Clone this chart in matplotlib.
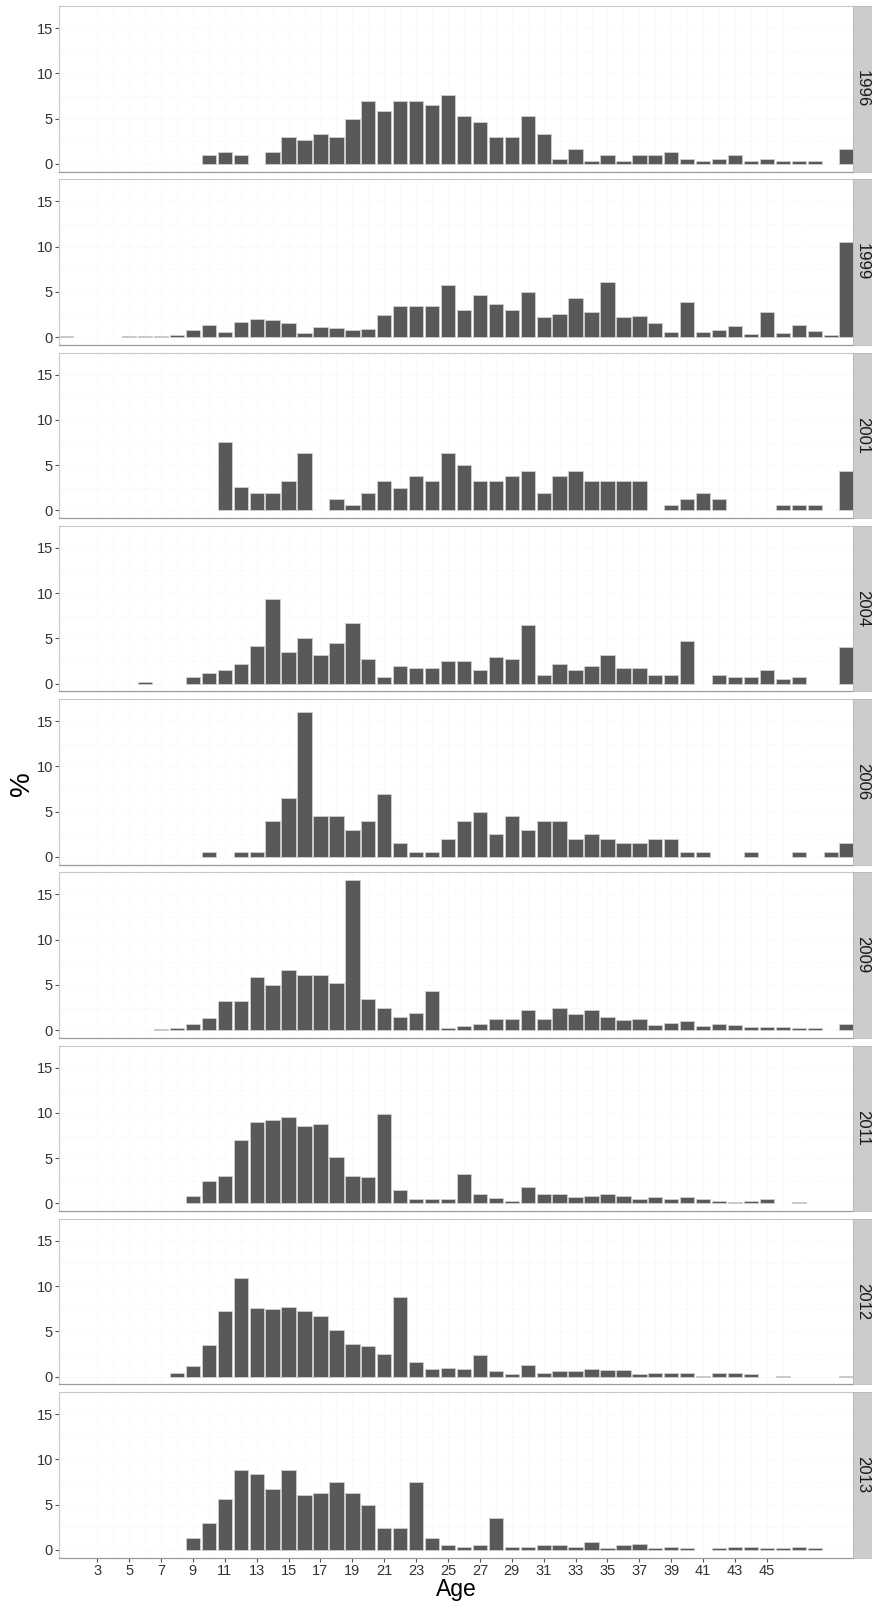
import matplotlib
matplotlib.use('Agg')
from matplotlib import pyplot as plt

plt.rcParams['font.family'] = ['Liberation Sans', 'DejaVu Sans']

years = ['1996', '1999', '2001', '2004', '2006', '2009', '2011', '2012', '2013']
ages = list(range(1, 51))
age_ticks = list(range(3, 46, 2))

# share of each age (%), ages 1..50
y1996 = [0, 0, 0, 0, 0, 0, 0, 0, 0, 1.0,
         1.3, 1.0, 0, 1.3, 3.0, 2.6, 3.3, 3.0, 5.0, 6.9,
         5.9, 6.9, 6.9, 6.5, 7.6, 5.3, 4.6, 3.0, 3.0, 5.3,
         3.3, 0.6, 1.6, 0.3, 1.0, 0.3, 1.0, 1.0, 1.3, 0.6,
         0.3, 0.6, 1.0, 0.3, 0.6, 0.3, 0.3, 0.3, 0, 1.6]
y1999 = [0.1, 0, 0, 0, 0.1, 0.1, 0.1, 0.2, 0.8, 1.3,
         0.6, 1.7, 2.0, 1.9, 1.6, 0.5, 1.1, 1.0, 0.8, 0.9,
         2.4, 3.4, 3.5, 3.4, 5.8, 3.0, 4.7, 3.7, 3.0, 5.0,
         2.2, 2.6, 4.3, 2.8, 6.1, 2.2, 2.3, 1.6, 0.6, 3.9,
         0.6, 0.8, 1.2, 0.4, 2.8, 0.5, 1.4, 0.7, 0.2, 10.5]
y2001 = [0, 0, 0, 0, 0, 0, 0, 0, 0, 0,
         7.6, 2.6, 1.9, 1.9, 3.2, 6.3, 0, 1.3, 0.6, 1.9,
         3.2, 2.5, 3.8, 3.2, 6.3, 5.0, 3.2, 3.2, 3.8, 4.4,
         1.9, 3.8, 4.4, 3.2, 3.2, 3.2, 3.2, 0, 0.6, 1.3,
         1.9, 1.3, 0, 0, 0, 0.6, 0.6, 0.6, 0, 4.4]
y2004 = [0, 0, 0, 0, 0, 0.2, 0, 0, 0.7, 1.2,
         1.5, 2.2, 4.2, 9.3, 3.5, 5.0, 3.2, 4.5, 6.7, 2.7,
         0.7, 2.0, 1.7, 1.7, 2.5, 2.5, 1.5, 3.0, 2.7, 6.5,
         1.0, 2.2, 1.5, 2.0, 3.2, 1.7, 1.7, 1.0, 1.0, 4.7,
         0, 1.0, 0.7, 0.7, 1.5, 0.5, 0.7, 0, 0, 4.0]
y2006 = [0, 0, 0, 0, 0, 0, 0, 0, 0, 0.5,
         0, 0.5, 0.5, 4.0, 6.5, 16.0, 4.5, 4.5, 3.0, 4.0,
         7.0, 1.5, 0.5, 0.5, 2.0, 4.0, 5.0, 2.5, 4.5, 3.0,
         4.0, 4.0, 2.0, 2.5, 2.0, 1.5, 1.5, 2.0, 2.0, 0.5,
         0.5, 0, 0, 0.5, 0, 0, 0.5, 0, 0.5, 1.5]
y2009 = [0, 0, 0, 0, 0, 0, 0.1, 0.3, 0.7, 1.4,
         3.2, 3.2, 5.9, 5.0, 6.7, 6.1, 6.1, 5.2, 16.6, 3.4,
         2.4, 1.5, 1.9, 4.3, 0.2, 0.5, 0.7, 1.2, 1.2, 2.2,
         1.2, 2.4, 1.8, 2.2, 1.5, 1.1, 1.2, 0.6, 0.8, 1.0,
         0.5, 0.7, 0.6, 0.4, 0.4, 0.4, 0.3, 0.3, 0, 0.7]
y2011 = [0, 0, 0, 0, 0, 0, 0, 0, 0.8, 2.5,
         3.0, 7.0, 9.0, 9.2, 9.5, 8.5, 8.8, 5.1, 3.0, 2.9,
         9.9, 1.5, 0.5, 0.5, 0.5, 3.2, 1.0, 0.6, 0.3, 1.8,
         1.0, 1.0, 0.7, 0.8, 1.0, 0.8, 0.5, 0.7, 0.5, 0.7,
         0.5, 0.3, 0.2, 0.3, 0.5, 0, 0.2, 0, 0, 0]
y2012 = [0, 0, 0, 0, 0, 0, 0, 0.4, 1.2, 3.5,
         7.3, 10.9, 7.6, 7.5, 7.7, 7.3, 6.7, 5.2, 3.6, 3.4,
         2.5, 8.8, 1.6, 0.9, 1.0, 0.9, 2.4, 0.6, 0.3, 1.3,
         0.4, 0.6, 0.6, 0.9, 0.7, 0.7, 0.3, 0.4, 0.4, 0.4,
         0.1, 0.4, 0.4, 0.3, 0, 0.1, 0, 0, 0, 0.1]
y2013 = [0, 0, 0, 0, 0, 0, 0, 0, 1.3, 3.0,
         5.6, 8.8, 8.4, 6.7, 8.8, 6.1, 6.3, 7.5, 6.3, 5.0,
         2.4, 2.4, 7.5, 1.3, 0.5, 0.3, 0.5, 3.5, 0.3, 0.3,
         0.5, 0.5, 0.3, 0.9, 0.2, 0.5, 0.7, 0.2, 0.3, 0.2,
         0, 0.2, 0.3, 0.3, 0.2, 0.2, 0.3, 0.2, 0, 0]

shares = [y1996, y1999, y2001, y2004, y2006, y2009, y2011, y2012, y2013]

W, H = 872, 1609
fig = plt.figure(figsize=(W / 100, H / 100), dpi=100)

left, right = 59, 853
top0, panel_h, step = 6, 165.5, 173.25
strip_w = 19

for i, (year, vals) in enumerate(zip(years, shares)):
    top = top0 + i * step
    rect = [left / W, 1 - (top + panel_h) / H, (right - left) / W, panel_h / H]
    ax = fig.add_axes(rect)

    xs = [a for a, v in zip(ages, vals) if v > 0]
    hs = [v for v in vals if v > 0]
    ax.bar(xs, hs, width=0.9, color='#595959', edgecolor='#d0d0d0', linewidth=0.6, zorder=3)

    ax.set_xlim(0.6, 50.4)
    ax.set_ylim(-0.83, 17.43)
    ax.set_yticks([0, 5, 10, 15])
    ax.set_yticks([2.5, 7.5, 12.5], minor=True)
    ax.set_xticks(age_ticks)
    ax.set_xticks([a + 1 for a in age_ticks], minor=True)
    ax.grid(True, which='both', color='#efefef', linewidth=0.5, linestyle=':', zorder=0)
    ax.tick_params(axis='y', which='major', labelsize=10.5, length=3, color='#555555',
                   labelcolor='#333333', pad=1.5)
    ax.tick_params(which='minor', length=0)
    if i == len(years) - 1:
        ax.tick_params(axis='x', which='major', labelsize=10.5, length=3, color='#555555',
                       labelcolor='#333333', pad=2)
    else:
        ax.tick_params(axis='x', which='major', length=0, labelbottom=False)

    for side in ['top', 'left', 'right']:
        ax.spines[side].set_color('#c8c8c8')
        ax.spines[side].set_linewidth(0.8)
    ax.spines['bottom'].set_color('#9a9a9a')
    ax.spines['bottom'].set_linewidth(0.9)

    # facet strip on the right
    sax = fig.add_axes([right / W, rect[1], strip_w / W, rect[3]])
    sax.set_facecolor('#cccccc')
    sax.set_xticks([])
    sax.set_yticks([])
    for sp in sax.spines.values():
        sp.set_color('#b8b8b8')
        sp.set_linewidth(0.6)
    sax.text(0.5, 0.5, year, rotation=270, ha='center', va='center',
             fontsize=12, color='#1a1a1a', transform=sax.transAxes)

fig.text(456 / W, 1 - 1596 / H, 'Age', ha='center', va='baseline', fontsize=16.5)
fig.text(22 / W, 1 - 784 / H, '%', ha='center', va='center', rotation=90, fontsize=20)

fig.savefig('out.png', dpi=100)
